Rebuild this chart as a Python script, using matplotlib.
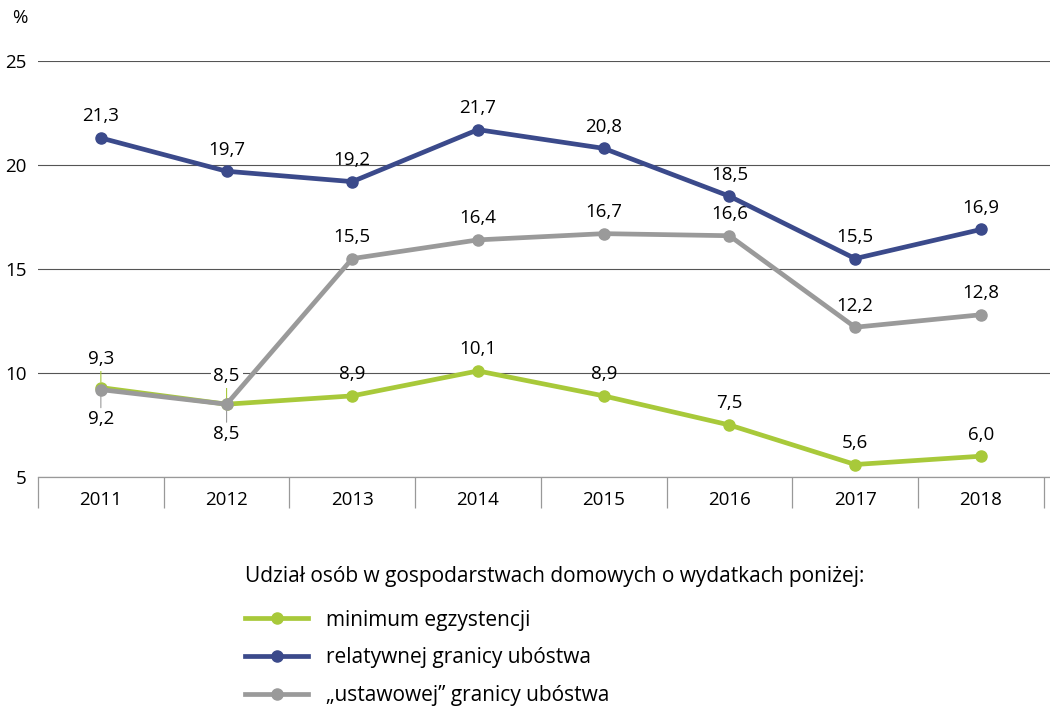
import numpy as np
import matplotlib.pyplot as plt
from matplotlib.lines import Line2D

plt.rcParams['font.family'] = ['Open Sans', 'DejaVu Sans']

years = ['2011', '2012', '2013', '2014', '2015', '2016', '2017', '2018']
minimum = [9.3, 8.5, 8.9, 10.1, 8.9, 7.5, 5.6, 6.0]
relatywna = [21.3, 19.7, 19.2, 21.7, 20.8, 18.5, 15.5, 16.9]
ustawowa = [9.2, 8.5, 15.5, 16.4, 16.7, 16.6, 12.2, 12.8]
labels = ['minimum egzystencji', 'relatywnej granicy ubóstwa', '„ustawowej” granicy ubóstwa']
legend_title = 'Udział osób w gospodarstwach domowych o wydatkach poniżej:'

green = '#a8c93a'
navy = '#3b4a8b'
grey = '#9a9a9a'

fig = plt.figure(figsize=(10.5, 7.06), dpi=100)
ax = fig.add_axes([38 / 1050, 1 - 477 / 706, 1 - 38 / 1050, (477 - 61) / 706])

x = np.arange(len(years))
ax.set_xlim(-0.5, 7.55)
ax.set_ylim(5, 25)

ax.set_yticks([5, 10, 15, 20, 25])
ax.set_yticklabels(['5', '10', '15', '20', '25'])
ax.yaxis.grid(True, color='#555555', lw=0.8)
ax.set_axisbelow(True)
ax.tick_params(axis='y', length=0, labelsize=13.5, pad=8)

ax.set_xticks(x)
ax.set_xticklabels(years)
ax.set_xticks(np.arange(len(years) + 1) - 0.5, minor=True)
ax.tick_params(axis='x', which='major', length=0, labelsize=13.5, pad=10)
ax.tick_params(axis='x', which='minor', length=22, width=0.9, color='#999999')

for s in ['top', 'right', 'left']:
    ax.spines[s].set_visible(False)
ax.spines['bottom'].set_color('#999999')
ax.spines['bottom'].set_linewidth(0.9)

fmt = lambda v: f'{v:.1f}'.replace('.', ',')

series = [(minimum, green, 3), (relatywna, navy, 4), (ustawowa, grey, 5)]
for vals, col, z in series:
    ax.plot(x, vals, color=col, lw=3.4, marker='o', ms=8, zorder=z)

# data labels
for i, v in enumerate(relatywna):
    ax.annotate(fmt(v), (i, v), xytext=(0, 9), textcoords='offset points',
                ha='center', va='bottom', fontsize=13.5)

for i, v in enumerate(ustawowa):
    if i < 2:
        ax.annotate(fmt(v), (i, v), xytext=(0, -15), textcoords='offset points',
                    ha='center', va='top', fontsize=13.5,
                    arrowprops=dict(arrowstyle='-', color=grey, lw=0.8, shrinkA=0, shrinkB=4))
    else:
        ax.annotate(fmt(v), (i, v), xytext=(0, 9), textcoords='offset points',
                    ha='center', va='bottom', fontsize=13.5)

for i, v in enumerate(minimum):
    if i < 2:
        ax.annotate(fmt(v), (i, v), xytext=(0, 14), textcoords='offset points',
                    ha='center', va='bottom', fontsize=13.5,
                    bbox=dict(boxstyle='square,pad=0.15', fc='white', ec='none'),
                    arrowprops=dict(arrowstyle='-', color=green, lw=0.8, shrinkA=0, shrinkB=4))
    else:
        ax.annotate(fmt(v), (i, v), xytext=(0, 9), textcoords='offset points',
                    ha='center', va='bottom', fontsize=13.5)

fig.text(12 / 1050, 1 - 18 / 706, '%', fontsize=13.5, va='center', ha='left')

handles = [Line2D([], [], color=c, lw=3.4, marker='o', ms=8) for c in (green, navy, grey)]
leg = fig.legend(handles, labels, title=legend_title, loc='upper left',
                 bbox_to_anchor=(235 / 1050, 1 - 556 / 706), frameon=False, borderpad=0,
                 fontsize=15, title_fontsize=15, handlelength=3.0, handletextpad=0.85,
                 labelspacing=0.8, alignment='left')
leg._legend_box.sep = 16

fig.savefig('out.png', dpi=100)
